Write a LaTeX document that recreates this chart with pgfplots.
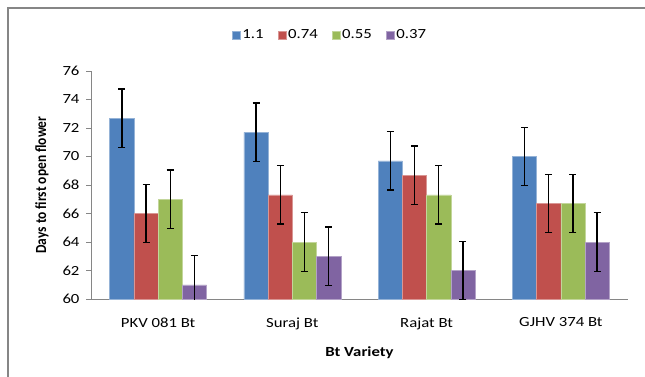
\documentclass[border=0pt]{standalone}
\usepackage{graphicx}
\usepackage{pgfplots}
\pgfplotsset{compat=1.18}
\usepackage{fontspec}
\setmainfont{Carlito}
\definecolor{c1}{HTML}{4F81BD}
\definecolor{c2}{HTML}{C0504D}
\definecolor{c3}{HTML}{9BBB59}
\definecolor{c4}{HTML}{8064A2}
\definecolor{axgray}{HTML}{868686}
\newcommand{\hs}[1]{\scalebox{1.2}[1]{#1}}
\begin{document}
\begin{tikzpicture}
\path[use as bounding box] (0,0) rectangle (645bp,-377bp);
\draw[axgray, line width=2bp] (8bp,-400bp) -- (8bp,-8bp) -- (700bp,-8bp);
\begin{axis}[
  at={(91bp,-299bp)}, anchor=south west,
  scale only axis, width=537bp, height=228bp,
  ybar=0pt, bar width=24.2bp,
  xmin=-0.5, xmax=3.5, ymin=60, ymax=76,
  ytick={60,62,...,76},
  xtick={0,1,2,3},
  xticklabels={\hs{PKV 081 Bt}, \hs{Suraj Bt}, \hs{Rajat Bt}, \hs{GJHV 374 Bt}},
  extra x ticks={-0.5,0.5,1.5,2.5,3.5},
  extra x tick labels={},
  extra x tick style={major tick length=5bp, tick style={axgray, line width=0.8bp}},
  x tick style={draw=none},
  y tick style={axgray, line width=0.8bp},
  major tick length=5bp,
  tick align=outside,
  axis lines*=left,
  axis line style={axgray, line width=0.9bp},
  yticklabel={\hs{\pgfmathprintnumber{\tick}}},
  /pgf/number format/assume math mode=true,
  tick label style={font=\fontsize{14}{16}\selectfont, black},
  xticklabel style={yshift=-10bp},
  yticklabel style={xshift=-3bp},
  ylabel={\scalebox{1}[1.15]{\bfseries Days to first open flower}},
  ylabel style={font=\fontsize{13.5}{15}\selectfont, yshift=7bp},
  xlabel={\hs{\bfseries Bt Variety}},
  xlabel style={font=\fontsize{14}{16}\selectfont, yshift=0bp},
  legend style={at={(0.445,1.158)}, anchor=center, draw=none, fill=none,
    legend columns=-1, font=\fontsize{14}{16}\selectfont,
    /tikz/every even column/.append style={column sep=12bp},
    /tikz/every odd column/.append style={column sep=0bp}},
  legend image code/.code={\fill[#1] (2bp,-4bp) rectangle (10bp,4bp);},
  error bars/y dir=both, error bars/y explicit,
  error bars/error bar style={black, line width=1.4bp},
  error bars/error mark options={black, line width=1.4bp, mark size=3.5bp, rotate=90},
  clip=true,
]
\addplot[fill=c1, draw=c1!60!white, line width=0.5bp] coordinates {(0,72.7) +- (0,2.05) (1,71.7) +- (0,2.05) (2,69.7) +- (0,2.05) (3,70.0) +- (0,2.05)};
\addplot[fill=c2, draw=c2!60!white, line width=0.5bp] coordinates {(0,66.0) +- (0,2.05) (1,67.3) +- (0,2.05) (2,68.7) +- (0,2.05) (3,66.7) +- (0,2.05)};
\addplot[fill=c3, draw=c3!60!white, line width=0.5bp] coordinates {(0,67.0) +- (0,2.05) (1,64.0) +- (0,2.05) (2,67.3) +- (0,2.05) (3,66.7) +- (0,2.05)};
\addplot[fill=c4, draw=c4!60!white, line width=0.5bp] coordinates {(0,61.0) +- (0,2.05) (1,63.0) +- (0,2.05) (2,62.0) +- (0,2.05) (3,64.0) +- (0,2.05)};
\legend{\hs{1.1},\hs{0.74},\hs{0.55},\hs{0.37}}
\end{axis}
\end{tikzpicture}
\end{document}
